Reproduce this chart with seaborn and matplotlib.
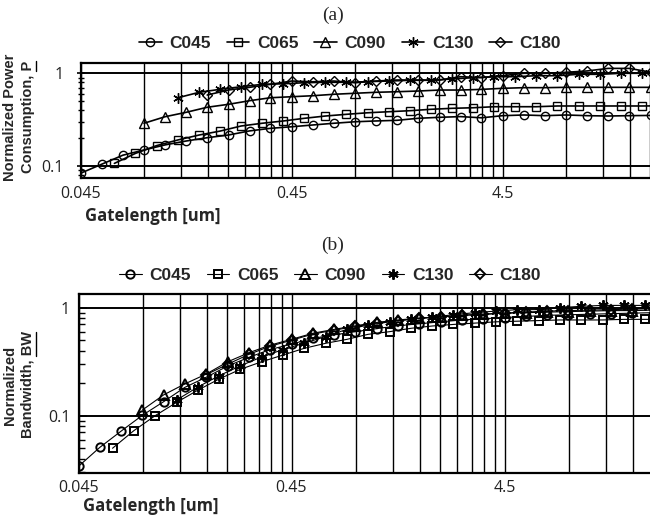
import matplotlib
matplotlib.use("Agg")
import matplotlib.pyplot as plt
import matplotlib.ticker as mticker
from matplotlib.lines import Line2D
import seaborn as sns
import pandas as pd

# gate lengths [um]
gl_045 = [0.045, 0.0567, 0.0713, 0.0898, 0.113, 0.142, 0.179, 0.226, 0.284, 0.357,
          0.45, 0.567, 0.713, 0.898, 1.13, 1.42, 1.79, 2.26, 2.84, 3.57,
          4.5, 5.67, 7.13, 8.98, 11.3, 14.2, 17.9, 22.6]
gl_065 = [0.065, 0.0818, 0.103, 0.13, 0.164, 0.206, 0.259, 0.326, 0.411, 0.517,
          0.65, 0.818, 1.03, 1.3, 1.64, 2.06, 2.59, 3.26, 4.11, 5.17,
          6.5, 8.18, 10.3, 13.0, 16.4, 20.6, 25.9]
gl_090 = gl_045[3:]
gl_130 = gl_065[3:]
gl_180 = gl_045[6:]

# (a) normalized power consumption
p_c045 = [0.083, 0.104, 0.130, 0.148, 0.168, 0.185, 0.201, 0.215, 0.238, 0.254,
          0.264, 0.276, 0.288, 0.299, 0.305, 0.310, 0.326, 0.334, 0.340, 0.330,
          0.348, 0.354, 0.348, 0.354, 0.348, 0.345, 0.348, 0.350]
p_c065 = [0.106, 0.136, 0.165, 0.190, 0.215, 0.237, 0.269, 0.288, 0.305, 0.326,
          0.345, 0.360, 0.374, 0.384, 0.394, 0.408, 0.418, 0.424, 0.435, 0.435,
          0.435, 0.443, 0.443, 0.443, 0.443, 0.443, 0.445]
p_c090 = [0.288, 0.339, 0.378, 0.429, 0.462, 0.505, 0.544, 0.558, 0.572, 0.593,
          0.608, 0.623, 0.632, 0.643, 0.659, 0.659, 0.670, 0.688, 0.699, 0.699,
          0.705, 0.705, 0.705, 0.705, 0.705]
p_c130 = [0.544, 0.623, 0.671, 0.716, 0.760, 0.770, 0.791, 0.799, 0.799, 0.812,
          0.825, 0.840, 0.840, 0.868, 0.897, 0.919, 0.919, 0.942, 0.942, 0.975,
          0.975, 1.0, 1.0, 0.98]
p_c180 = [0.582, 0.660, 0.705, 0.760, 0.825, 0.810, 0.825, 0.790, 0.825, 0.846,
          0.846, 0.846, 0.919, 0.897, 0.942, 1.0, 1.0, 1.025, 1.06, 1.13,
          1.13, 1.03]

# (b) normalized bandwidth
b_c045 = [0.034, 0.051, 0.072, 0.101, 0.135, 0.183, 0.227, 0.289, 0.347, 0.41,
          0.46, 0.52, 0.56, 0.60, 0.64, 0.68, 0.71, 0.74, 0.77, 0.79,
          0.81, 0.83, 0.85, 0.86, 0.87, 0.88, 0.89, 0.90]
b_c065 = [0.050, 0.0727, 0.100, 0.133, 0.173, 0.219, 0.269, 0.316, 0.365, 0.421,
          0.468, 0.509, 0.567, 0.600, 0.645, 0.677, 0.70, 0.72, 0.74, 0.75,
          0.76, 0.77, 0.77, 0.77, 0.78, 0.78, 0.78]
b_c090 = [0.113, 0.156, 0.197, 0.243, 0.316, 0.383, 0.45, 0.51, 0.58, 0.63,
          0.68, 0.73, 0.77, 0.80, 0.82, 0.85, 0.87, 0.89, 0.90, 0.91,
          0.92, 0.93, 0.94, 0.94, 0.95]
b_c130 = [0.14, 0.185, 0.235, 0.29, 0.35, 0.41, 0.47, 0.54, 0.63, 0.69,
          0.74, 0.78, 0.82, 0.86, 0.90, 0.93, 0.96, 0.96, 1.0, 1.03,
          1.05, 1.05, 1.05, 1.06]
b_c180 = [0.24, 0.30, 0.37, 0.44, 0.50, 0.57, 0.62, 0.67, 0.72, 0.76,
          0.80, 0.82, 0.85, 0.87, 0.89, 0.91, 0.93, 0.94, 0.95, 0.96,
          0.97, 0.98]

names = ["C045", "C065", "C090", "C130", "C180"]
gatelengths = [gl_045, gl_065, gl_090, gl_130, gl_180]
power = [p_c045, p_c065, p_c090, p_c130, p_c180]
bandwidth = [b_c045, b_c065, b_c090, b_c130, b_c180]

x_major = [0.045, 0.45, 4.5, 45]
x_labels = ["0.045", "0.45", "4.5", ""]

sns.set_style("white")
plt.rcParams["font.family"] = ["Liberation Sans", "DejaVu Sans"]

markers = {"C045": ("o", 6.0), "C065": ("s", 6.0), "C090": ("^", 6.5),
           "C130": ((6, 2, 0), 7.5), "C180": ("D", 4.8)}

fig = plt.figure(figsize=(6.5, 5.15), dpi=100)
W, H = 650.0, 515.0


def px_axes(left, top, bottom, decade):
    width = 3 * decade  # three decades, right end runs past the figure edge
    return fig.add_axes([left / W, 1 - bottom / H, width / W, (bottom - top) / H])


def draw_panel(ax, values, lw, mew, ylim, tick_dir, ypad, xpad):
    ax.set_xscale("log")
    ax.set_yscale("log")
    for name, xs, ys in zip(names, gatelengths, values):
        m, ms = markers[name]
        df = pd.DataFrame({"gl": xs, "val": ys})
        sns.lineplot(data=df, x="gl", y="val", ax=ax, color="black", lw=lw,
                     marker=m, ms=ms, mfc="none", mec="black", mew=mew,
                     label=name, sort=False, estimator=None, zorder=3)
    ax.set_xlim(0.045, 45)
    ax.set_ylim(*ylim)
    ax.xaxis.set_major_locator(mticker.FixedLocator(x_major))
    ax.xaxis.set_major_formatter(mticker.FixedFormatter(x_labels))
    minors = [d * k for d in [0.045, 0.45, 4.5] for k in range(2, 10)]
    ax.xaxis.set_minor_locator(mticker.FixedLocator(minors))
    ax.xaxis.set_minor_formatter(mticker.NullFormatter())
    ax.yaxis.set_major_locator(mticker.FixedLocator([0.1, 1]))
    ax.yaxis.set_major_formatter(mticker.FixedFormatter(["0.1", "1"]))
    ax.yaxis.set_minor_locator(mticker.LogLocator(subs=range(2, 10)))
    ax.yaxis.set_minor_formatter(mticker.NullFormatter())
    ax.grid(which="both", axis="x", color="black", lw=1.0)
    ax.grid(which="major", axis="y", color="black", lw=1.4)
    ax.set_axisbelow(True)
    ax.tick_params(axis="x", which="both", length=0, pad=xpad)
    ax.tick_params(axis="y", which="major", direction=tick_dir, length=6,
                   width=1.2, color="black", pad=ypad, left=True)
    ax.tick_params(axis="y", which="minor", direction=tick_dir, length=4,
                   width=1.0, color="black", left=True)
    for lab in ax.get_xticklabels() + ax.get_yticklabels():
        lab.set_fontfamily(["Open Sans", "DejaVu Sans"])
        lab.set_fontsize(11.5)
        lab.set_color("#222222")
    for sp in ax.spines.values():
        sp.set_color("black")
        sp.set_linewidth(1.6)
    ax.set_xlabel("")
    ax.set_ylabel("")
    ax.get_legend().remove()


def add_legend(ax, xc, yc):
    handles, labels = ax.get_legend_handles_labels()
    fig.legend(handles, labels, loc="center", bbox_to_anchor=(xc / W, 1 - yc / H),
               ncol=5, frameon=False, handlelength=1.3, handletextpad=0.45,
               columnspacing=0.9, borderpad=0,
               prop={"family": "Liberation Sans", "weight": "bold", "size": 12.5})


underlines = []


def ylabel(line1, line2, tail, yc):
    kw = dict(rotation=90, ha="center", va="center", fontsize=10.5, weight="bold")
    fig.text(10 / W, 1 - yc / H, line1, **kw)
    t2 = fig.text(28 / W, 1 - yc / H, line2, **kw)
    underlines.append((t2, tail))


# panel (a)
ax_a = px_axes(80.7, 63.3, 177.7, 211)
draw_panel(ax_a, power, 1.2, 1.0, (0.0742, 1.283), "inout", 9, 6)
fig.text(333 / W, 1 - 15 / H, "(a)", ha="center", va="center",
         family="Liberation Serif", fontsize=14)
add_legend(ax_a, 350, 43)
ylabel("Normalized Power", "Consumption, P", "P", 117)
fig.text(85 / W, 1 - 216 / H, "Gatelength [um]", ha="left", va="center",
         family=["Open Sans", "DejaVu Sans"], weight="bold", fontsize=12)

# panel (b)
ax_b = px_axes(78.5, 294, 472.7, 213)
draw_panel(ax_b, bandwidth, 0.8, 1.4, (0.0297, 1.339), "in", 6, 5)
fig.text(333 / W, 1 - 245 / H, "(b)", ha="center", va="center",
         family="Liberation Serif", fontsize=14)
add_legend(ax_b, 330, 275)
ylabel("Normalized", "Bandwidth, BW", "BW", 385)
fig.text(83 / W, 1 - 506 / H, "Gatelength [um]", ha="left", va="center",
         family=["Open Sans", "DejaVu Sans"], weight="bold", fontsize=12)

# underline the symbol at the end of each rotated label
fig.canvas.draw()
rend = fig.canvas.get_renderer()
for t2, tail in underlines:
    bb = t2.get_window_extent(rend)
    probe = fig.text(0, 0, tail, fontsize=10.5, weight="bold")
    tw = probe.get_window_extent(rend).width
    probe.remove()
    xu = bb.x1 + 0.5
    fig.add_artist(Line2D([xu / W, xu / W], [(bb.y1 - tw) / H, bb.y1 / H],
                          transform=fig.transFigure, color="black", lw=1.0))

fig.savefig("out.png", dpi=100)
